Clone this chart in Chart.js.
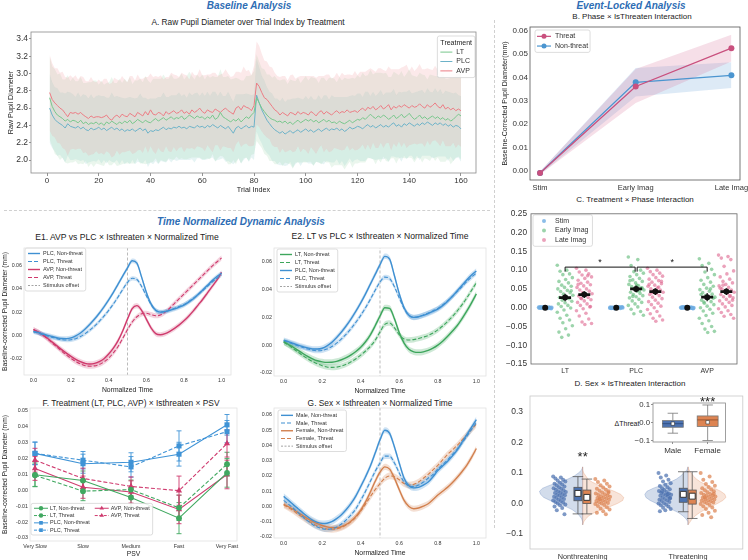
<!DOCTYPE html>
<html>
<head>
<meta charset="utf-8">
<script src="https://cdn.jsdelivr.net/npm/chart.js@4/dist/chart.umd.min.js"></script>
<style>
html,body{margin:0;padding:0;background:#fff;}
#wrap{position:relative;width:748px;height:560px;overflow:hidden;background:#fff;font-family:"Liberation Sans",Arial,Helvetica,sans-serif;}
#wrap canvas{position:absolute;}
.t{position:absolute;white-space:nowrap;transform:translate(-50%,-50%);color:#222;line-height:1;}
.hd{font-weight:bold;font-style:italic;color:#2e6db4;}
.dh{position:absolute;border-top:1px dashed #d0d0d0;height:0;}
.dv{position:absolute;border-left:1px dashed #d0d0d0;width:0;}
</style>
</head>
<body>
<div id="wrap"></div>
<script>
// ================= DATA =================
// Panel A: raw pupil diameter per trial (means) and band half-widths
const trialAVP=[
2.78,2.70,2.66,2.63,2.60,2.58,2.54,2.50,2.55,2.54,
2.55,2.53,2.55,2.52,2.50,2.48,2.51,2.49,2.50,2.50,
2.49,2.50,2.52,2.48,2.46,2.50,2.52,2.49,2.53,2.51,
2.50,2.54,2.52,2.50,2.55,2.53,2.51,2.56,2.52,2.58,
2.53,2.52,2.55,2.54,2.51,2.56,2.53,2.55,2.57,2.54,
2.55,2.58,2.54,2.56,2.53,2.58,2.55,2.57,2.60,2.56,
2.54,2.58,2.56,2.55,2.59,2.57,2.55,2.58,2.60,2.57,
2.55,2.53,2.60,2.62,2.58,2.63,2.61,2.60,2.57,2.63,
2.89,2.85,2.78,2.72,2.70,2.66,2.62,2.58,2.56,2.52,
2.55,2.53,2.51,2.55,2.54,2.52,2.56,2.53,2.55,2.54,
2.52,2.56,2.54,2.51,2.55,2.57,2.53,2.56,2.54,2.52,
2.55,2.57,2.54,2.56,2.55,2.58,2.55,2.56,2.57,2.55,
2.58,2.60,2.57,2.61,2.59,2.62,2.58,2.60,2.63,2.59,
2.61,2.64,2.58,2.62,2.60,2.63,2.61,2.64,2.62,2.60,
2.63,2.61,2.62,2.65,2.62,2.60,2.64,2.61,2.63,2.66,
2.62,2.60,2.64,2.59,2.61,2.58,2.60,2.57,2.59,2.57];
const trialLT=[
2.72,2.62,2.56,2.52,2.50,2.48,2.45,2.47,2.44,2.46,
2.45,2.43,2.46,2.42,2.44,2.41,2.43,2.42,2.44,2.41,
2.43,2.40,2.44,2.42,2.45,2.43,2.41,2.44,2.42,2.45,
2.43,2.46,2.42,2.44,2.47,2.45,2.43,2.46,2.44,2.43,
2.46,2.48,2.45,2.47,2.49,2.46,2.48,2.50,2.47,2.49,
2.48,2.51,2.47,2.49,2.52,2.50,2.48,2.51,2.49,2.50,
2.47,2.50,2.48,2.52,2.47,2.49,2.55,2.50,2.48,2.46,
2.44,2.47,2.45,2.48,2.44,2.47,2.50,2.48,2.52,2.55,
2.72,2.66,2.60,2.56,2.52,2.49,2.47,2.46,2.44,2.45,
2.43,2.45,2.42,2.44,2.41,2.44,2.46,2.43,2.45,2.47,
2.45,2.47,2.44,2.46,2.43,2.45,2.47,2.44,2.46,2.43,
2.44,2.42,2.45,2.43,2.42,2.44,2.46,2.43,2.45,2.47,
2.46,2.49,2.47,2.50,2.53,2.50,2.48,2.51,2.49,2.52,
2.50,2.47,2.49,2.52,2.48,2.50,2.53,2.49,2.51,2.54,
2.50,2.47,2.49,2.52,2.48,2.50,2.47,2.49,2.51,2.48,
2.50,2.47,2.49,2.46,2.48,2.45,2.47,2.50,2.53,2.51];
const trialPLC=[
2.60,2.52,2.47,2.44,2.42,2.40,2.37,2.42,2.39,2.38,
2.37,2.39,2.36,2.38,2.35,2.34,2.37,2.35,2.36,2.38,
2.35,2.37,2.34,2.36,2.38,2.35,2.37,2.34,2.36,2.33,
2.35,2.34,2.36,2.33,2.35,2.37,2.34,2.36,2.31,2.34,
2.33,2.35,2.34,2.36,2.38,2.35,2.37,2.36,2.38,2.37,
2.39,2.37,2.38,2.36,2.39,2.38,2.37,2.40,2.38,2.39,
2.37,2.40,2.38,2.41,2.39,2.37,2.40,2.38,2.36,2.39,
2.35,2.31,2.37,2.39,2.36,2.38,2.40,2.37,2.39,2.38,
2.75,2.66,2.58,2.52,2.46,2.42,2.38,2.35,2.33,2.31,
2.33,2.30,2.32,2.34,2.31,2.33,2.35,2.32,2.34,2.36,
2.33,2.35,2.32,2.34,2.36,2.33,2.35,2.37,2.34,2.36,
2.35,2.37,2.34,2.36,2.33,2.35,2.38,2.36,2.37,2.39,
2.38,2.36,2.39,2.41,2.38,2.40,2.37,2.39,2.41,2.38,
2.40,2.38,2.41,2.43,2.39,2.41,2.38,2.42,2.40,2.43,
2.41,2.39,2.42,2.40,2.43,2.41,2.44,2.42,2.40,2.43,
2.41,2.43,2.40,2.42,2.39,2.41,2.38,2.40,2.39,2.36];
const bandAVP=[
.44,.42,.40,.43,.41,.44,.42,.45,.43,.41,.43,.40,.42,.44,.41,.43,.45,.42,.40,.43,
.41,.44,.42,.40,.43,.45,.41,.43,.44,.42,.40,.43,.45,.42,.44,.41,.43,.40,.44,.42,
.43,.45,.41,.44,.42,.40,.43,.46,.42,.44,.41,.43,.45,.42,.40,.44,.43,.41,.45,.42,
.44,.41,.43,.46,.42,.40,.44,.42,.45,.43,.41,.44,.42,.40,.43,.45,.42,.44,.41,.46,
.48,.47,.45,.43,.44,.42,.45,.43,.41,.44,.42,.44,.41,.43,.45,.42,.40,.44,.42,.43,
.45,.41,.43,.44,.42,.40,.44,.43,.45,.42,.41,.44,.42,.45,.43,.41,.44,.42,.46,.43,
.44,.42,.45,.43,.47,.42,.44,.46,.43,.45,.42,.44,.47,.43,.45,.42,.46,.44,.48,.43,
.45,.42,.44,.46,.43,.45,.42,.44,.41,.43,.42,.44,.41,.43,.45,.42,.40,.43,.41,.42];
const bandLT=[
.48,.46,.49,.47,.50,.45,.48,.51,.47,.49,.46,.48,.50,.47,.45,.49,.47,.50,.48,.46,
.49,.47,.45,.48,.51,.46,.48,.50,.47,.49,.47,.50,.46,.48,.45,.49,.47,.51,.48,.46,
.48,.46,.49,.47,.50,.48,.46,.49,.47,.45,.47,.49,.46,.48,.50,.47,.45,.48,.46,.49,
.46,.48,.47,.45,.49,.47,.50,.46,.48,.51,.49,.47,.50,.46,.48,.45,.47,.49,.46,.48,
.50,.48,.46,.49,.47,.50,.48,.51,.49,.47,.50,.48,.46,.49,.51,.47,.49,.46,.48,.50,
.47,.49,.51,.48,.46,.50,.48,.47,.49,.52,.50,.48,.51,.49,.53,.50,.48,.52,.49,.51,
.49,.52,.50,.48,.51,.49,.53,.50,.52,.48,.51,.49,.47,.50,.52,.48,.50,.47,.49,.51,
.48,.50,.47,.49,.51,.48,.46,.50,.47,.49,.47,.49,.51,.48,.46,.50,.48,.47,.49,.50];
const bandPLC=[
.40,.38,.37,.39,.36,.38,.40,.37,.39,.38,.36,.39,.37,.38,.40,.37,.39,.36,.38,.37,
.39,.37,.38,.36,.40,.38,.37,.39,.36,.38,.37,.39,.36,.38,.37,.40,.38,.36,.39,.37,
.38,.36,.39,.37,.40,.38,.36,.39,.37,.38,.39,.37,.38,.36,.39,.37,.40,.38,.36,.39,
.37,.39,.36,.38,.40,.37,.39,.36,.38,.40,.38,.36,.39,.37,.40,.38,.37,.39,.36,.38,
.42,.41,.39,.40,.38,.37,.39,.36,.38,.37,.39,.37,.38,.36,.40,.38,.37,.39,.36,.38,
.37,.39,.38,.36,.39,.37,.40,.38,.36,.39,.38,.36,.39,.37,.40,.38,.36,.39,.37,.38,
.39,.37,.40,.38,.36,.39,.37,.38,.40,.37,.38,.40,.37,.39,.36,.38,.40,.37,.39,.38,
.36,.39,.37,.40,.38,.36,.39,.37,.38,.40,.37,.39,.36,.38,.40,.37,.39,.38,.36,.38];
const aTicksX=[0,20,40,60,80,100,120,140,160];
const aTicksY=[2.0,2.2,2.4,2.6,2.8,3.0,3.2,3.4];
const aTreatments=['LT','PLC','AVP'];

// Panel B
const bPhases=['Stim','Early Imag','Late Imag'];
const bThreat=[-0.0010,0.0361,0.0525];
const bThreatLo=[-0.0016,0.0290,0.0468];
const bThreatHi=[-0.0004,0.0436,0.0583];
const bNon=[-0.0010,0.0379,0.0409];
const bNonLo=[-0.0016,0.0318,0.0354];
const bNonHi=[-0.0004,0.0440,0.0465];
const bTicksY=[0,0.01,0.02,0.03,0.04,0.05,0.06];
const bTickLabels=['0.00','0.01','0.02','0.03','0.04','0.05','0.06'];

// Panel C
const cTreatments=['LT','PLC','AVP'];
const cPhases=['Stim','Early Imag','Late Imag'];
const cStimLT=[0.001,-0.001,0.0005,-0.0005,0.002,-0.002,0,0.0015,-0.0015,0.001,-0.001,0.0008,-0.0008,0.0003,-0.0003,0.0012,-0.0012,0.0002,-0.0002,0];
const cStimPLC=[-0.001,0.001,-0.0005,0.0005,-0.002,0.002,0,-0.0015,0.0015,-0.001,0.001,-0.0008,0.0008,-0.0003,0.0003,-0.0012,0.0012,-0.0002,0.0002,0];
const cStimAVP=[0.0005,-0.0015,0.001,-0.001,0.0015,-0.002,0.0002,0.002,-0.0005,0.0008,-0.0012,0.0003,-0.0008,0.0012,-0.0003,0.001,-0.001,0,0.0004,-0.0004];
const cEarlyLT=[0.113,0.100,0.097,0.090,0.088,0.080,0.075,0.070,0.066,0.060,0.057,0.054,0.050,0.046,0.043,0.040,0.036,0.033,0.030,0.027,0.024,0.020,0.017,0.013,0.010,0.006,0.003,-0.001,-0.006,-0.012,-0.020,-0.028,-0.033,-0.040,-0.048,-0.056,-0.065,-0.073,-0.079,0.045];
const cLateLT=[0.105,0.100,0.095,0.090,0.087,0.082,0.078,0.073,0.068,0.065,0.061,0.058,0.054,0.050,0.047,0.044,0.040,0.037,0.034,0.031,0.027,0.024,0.021,0.018,0.014,0.010,0.006,0.002,-0.003,-0.008,-0.015,-0.022,-0.030,-0.038,-0.042,-0.045,0.062,0.085,0.025,0.003];
const cEarlyPLC=[0.135,0.128,0.112,0.100,0.096,0.092,0.088,0.083,0.078,0.074,0.070,0.066,0.062,0.059,0.056,0.053,0.050,0.047,0.044,0.041,0.038,0.035,0.032,0.029,0.026,0.022,0.018,0.014,0.010,0.006,0.002,-0.004,-0.010,-0.016,-0.020,0.060,0.072,0.045,0.030,0.052];
const cLatePLC=[0.105,0.100,0.096,0.092,0.088,0.084,0.080,0.076,0.072,0.068,0.064,0.060,0.057,0.053,0.050,0.047,0.044,0.041,0.038,0.035,0.032,0.028,0.024,0.020,0.016,0.012,0.008,0.004,0.000,-0.005,-0.010,-0.016,-0.022,-0.028,-0.033,-0.036,0.062,0.055,0.040,0.070];
const cEarlyAVP=[0.130,0.118,0.112,0.102,0.095,0.088,0.080,0.073,0.068,0.062,0.057,0.052,0.048,0.044,0.040,0.036,0.032,0.028,0.024,0.020,0.016,0.012,0.008,0.004,0.000,-0.004,-0.009,-0.015,-0.021,-0.028,-0.035,-0.042,-0.050,-0.057,-0.063,-0.066,0.035,0.050,0.015,0.025];
const cLateAVP=[0.140,0.136,0.132,0.128,0.110,0.098,0.090,0.082,0.076,0.070,0.066,0.062,0.058,0.054,0.050,0.047,0.044,0.041,0.038,0.035,0.032,0.029,0.026,0.022,0.018,0.014,0.010,0.006,0.002,-0.003,-0.008,-0.013,-0.018,-0.023,-0.028,0.045,0.052,0.030,0.060,0.020];
const cMeanStim=[0.000,0.000,0.000];
const cMeanEarly=[0.027,0.050,0.028];
const cMeanLate=[0.035,0.043,0.043];
const cCiEarly=[0.010,0.009,0.011];
const cCiLate=[0.009,0.009,0.009];
const cSigPairs=[[0,1],[1,2]];
const cSigLabels=['*','*'];
const cSigY=0.108;
const cTicksY=[-0.15,-0.10,-0.05,0,0.05,0.10,0.15,0.20,0.25];
const cTickLabels=['\u22120.15','\u22120.10','\u22120.05','0.00','0.05','0.10','0.15','0.20','0.25'];

// Panel D
const dConditions=['Nonthreatening','Threatening'];
const dStripMaleNT=[0.088,0.085,0.082,0.078,0.075,0.072,0.068,0.065,0.062,0.059,0.056,0.053,0.050,0.048,0.045,0.043,0.040,0.038,0.036,0.034,0.031,0.029,0.027,0.025,0.022,0.020,0.018,0.015,0.012,0.010,0.008,0.005,0.003,0.000,-0.003,-0.006,-0.010,-0.015,-0.022,-0.035];
const dStripFemaleNT=[0.080,0.075,0.070,0.065,0.060,0.056,0.052,0.048,0.045,0.042,0.039,0.036,0.033,0.030,0.028,0.026,0.024,0.022,0.020,0.018,0.016,0.014,0.012,0.010,0.008,0.006,0.004,0.002,0.000,-0.002,-0.005,-0.008,-0.012,-0.016,-0.020,-0.025,-0.030,-0.035,0.015,0.035];
const dStripMaleT=[0.100,0.092,0.085,0.078,0.072,0.066,0.061,0.057,0.053,0.050,0.047,0.044,0.041,0.038,0.035,0.033,0.031,0.029,0.027,0.025,0.022,0.020,0.018,0.015,0.012,0.010,0.008,0.005,0.002,0.000,-0.003,-0.006,-0.010,-0.014,-0.018,-0.022,-0.025,0.030,0.040,0.016];
const dStripFemaleT=[0.100,0.088,0.078,0.070,0.064,0.058,0.054,0.050,0.046,0.043,0.040,0.037,0.034,0.031,0.029,0.027,0.025,0.023,0.021,0.019,0.017,0.015,0.013,0.011,0.009,0.007,0.005,0.003,0.001,-0.002,-0.005,-0.009,-0.013,-0.018,-0.024,-0.030,-0.038,-0.045,0.020,0.032];
const dVioY=[-0.07,-0.06,-0.05,-0.04,-0.03,-0.02,-0.01,0.00,0.01,0.02,0.03,0.04,0.05,0.06,0.07,0.08,0.09,0.10,0.11,0.12];
const dVioMaleNT=[0,0,0.01,0.03,0.06,0.10,0.16,0.24,0.31,0.37,0.40,0.41,0.38,0.31,0.22,0.14,0.08,0.04,0.01,0];
const dVioFemaleNT=[0,0.01,0.03,0.06,0.11,0.18,0.26,0.33,0.38,0.39,0.36,0.30,0.22,0.15,0.09,0.05,0.03,0.01,0,0];
const dVioMaleT=[0,0,0.02,0.05,0.09,0.15,0.22,0.30,0.36,0.40,0.41,0.39,0.33,0.25,0.17,0.11,0.07,0.04,0.01,0];
const dVioFemaleT=[0,0.02,0.04,0.07,0.11,0.16,0.22,0.28,0.33,0.36,0.35,0.31,0.25,0.18,0.12,0.08,0.05,0.03,0.01,0];
const dMaleQ1=[0.009,0.004], dMaleQ3=[0.053,0.050], dMaleMed=[0.030,0.027], dMaleLo=[-0.034,-0.027], dMaleHi=[0.088,0.104], dMaleMean=[0.033,0.030];
const dFemaleQ1=[0.000,-0.002], dFemaleQ3=[0.044,0.044], dFemaleMed=[0.020,0.022], dFemaleLo=[-0.034,-0.049], dFemaleHi=[0.080,0.104], dFemaleMean=[0.020,0.024];
const dSigLabels=['**',''];
const dSigY=0.140;
const dTicksY=[-0.1,0,0.1,0.2,0.3];
const dTickLabels=['\u22120.1','0.0','0.1','0.2','0.3'];
// D inset
const insetGroups=['Male','Female'];
const insetQ1=[-0.024,-0.020], insetQ3=[0.013,0.039], insetMed=[-0.004,0.017], insetLo=[-0.057,-0.098], insetHi=[0.054,0.100], insetMean=[-0.004,0.004];
const insetSig=['','***'];
const insetSigY=0.094;
const insetTicksY=[-0.1,0,0.1];
const insetTickLabels=['\u22120.1','0.0','0.1'];

// Panels E1/E2/G: normalized time course
const tGrid=[0,0.025,0.05,0.075,0.1,0.125,0.15,0.175,0.2,0.225,0.25,0.275,0.3,0.325,0.35,0.375,0.4,0.425,0.45,0.475,0.5,0.525,0.55,0.575,0.6,0.625,0.65,0.675,0.7,0.725,0.75,0.775,0.8,0.825,0.85,0.875,0.9,0.925,0.95,0.975,1.0];
const plcNT=[0.0035,0.0025,0.0012,0.0000,-0.0010,-0.0020,-0.0027,-0.0028,-0.0022,-0.0005,0.0020,0.0055,0.0095,0.0140,0.0190,0.0245,0.0305,0.0370,0.0440,0.0510,0.0580,0.0640,0.0620,0.0500,0.0370,0.0270,0.0215,0.0200,0.0205,0.0215,0.0228,0.0243,0.0260,0.0285,0.0315,0.0350,0.0390,0.0430,0.0470,0.0505,0.0535];
const plcT=[0.0030,0.0020,0.0008,-0.0005,-0.0017,-0.0028,-0.0036,-0.0040,-0.0038,-0.0028,-0.0010,0.0015,0.0045,0.0080,0.0120,0.0165,0.0215,0.0270,0.0330,0.0395,0.0455,0.0490,0.0480,0.0420,0.0340,0.0265,0.0215,0.0200,0.0205,0.0218,0.0232,0.0248,0.0265,0.0290,0.0318,0.0350,0.0385,0.0420,0.0458,0.0490,0.0520];
const avpNT=[0.0050,0.0030,0.0005,-0.0025,-0.0058,-0.0090,-0.0122,-0.0152,-0.0180,-0.0205,-0.0225,-0.0240,-0.0245,-0.0240,-0.0225,-0.0200,-0.0160,-0.0110,-0.0045,0.0040,0.0140,0.0230,0.0255,0.0215,0.0140,0.0065,0.0015,0.0005,0.0015,0.0035,0.0060,0.0090,0.0125,0.0165,0.0210,0.0260,0.0310,0.0365,0.0420,0.0475,0.0540];
const avpT=[0.0050,0.0028,0.0002,-0.0030,-0.0065,-0.0100,-0.0135,-0.0168,-0.0198,-0.0225,-0.0245,-0.0260,-0.0265,-0.0262,-0.0250,-0.0228,-0.0195,-0.0150,-0.0095,-0.0025,0.0050,0.0115,0.0160,0.0185,0.0190,0.0178,0.0168,0.0175,0.0200,0.0235,0.0275,0.0315,0.0355,0.0395,0.0435,0.0475,0.0515,0.0555,0.0595,0.0630,0.0665];
const ltNT=[0.0025,0.0005,-0.0015,-0.0038,-0.0060,-0.0080,-0.0098,-0.0112,-0.0120,-0.0124,-0.0123,-0.0117,-0.0105,-0.0090,-0.0070,-0.0045,-0.0015,0.0025,0.0075,0.0140,0.0210,0.0270,0.0265,0.0190,0.0090,0.0015,-0.0030,-0.0048,-0.0052,-0.0048,-0.0038,-0.0022,0.0000,0.0028,0.0062,0.0100,0.0140,0.0190,0.0245,0.0305,0.0370];
const ltT=[0.0022,0.0000,-0.0025,-0.0050,-0.0075,-0.0098,-0.0118,-0.0135,-0.0148,-0.0157,-0.0160,-0.0158,-0.0150,-0.0138,-0.0120,-0.0098,-0.0072,-0.0042,-0.0008,0.0035,0.0095,0.0150,0.0160,0.0125,0.0075,0.0045,0.0037,0.0040,0.0048,0.0058,0.0070,0.0088,0.0110,0.0138,0.0170,0.0205,0.0245,0.0290,0.0340,0.0395,0.0450];
const maleNT=[0.0066,0.0040,0.0012,-0.0015,-0.0042,-0.0068,-0.0090,-0.0105,-0.0112,-0.0110,-0.0100,-0.0080,-0.0054,-0.0020,0.0020,0.0070,0.0131,0.0195,0.0265,0.0350,0.0437,0.0500,0.0480,0.0390,0.0284,0.0185,0.0136,0.0122,0.0125,0.0140,0.0160,0.0195,0.0235,0.0265,0.0295,0.0330,0.0370,0.0420,0.0470,0.0520,0.0570];
const maleT=[0.0040,0.0015,-0.0012,-0.0040,-0.0068,-0.0095,-0.0118,-0.0135,-0.0146,-0.0150,-0.0147,-0.0135,-0.0115,-0.0088,-0.0055,-0.0015,0.0040,0.0100,0.0165,0.0230,0.0285,0.0330,0.0330,0.0285,0.0220,0.0160,0.0135,0.0130,0.0140,0.0160,0.0185,0.0210,0.0245,0.0275,0.0305,0.0340,0.0375,0.0415,0.0460,0.0505,0.0550];
const femaleNT=[0.0015,-0.0002,-0.0020,-0.0040,-0.0060,-0.0080,-0.0098,-0.0113,-0.0125,-0.0134,-0.0140,-0.0140,-0.0133,-0.0118,-0.0095,-0.0065,-0.0025,0.0030,0.0095,0.0165,0.0225,0.0260,0.0245,0.0185,0.0110,0.0040,0.0000,-0.0015,-0.0010,0.0002,0.0018,0.0045,0.0075,0.0100,0.0125,0.0155,0.0190,0.0228,0.0270,0.0322,0.0380];
const femaleT=[0.0010,-0.0008,-0.0028,-0.0050,-0.0072,-0.0093,-0.0112,-0.0128,-0.0140,-0.0148,-0.0150,-0.0147,-0.0138,-0.0122,-0.0100,-0.0070,-0.0030,0.0015,0.0065,0.0110,0.0150,0.0185,0.0200,0.0195,0.0175,0.0150,0.0140,0.0145,0.0160,0.0185,0.0210,0.0240,0.0270,0.0305,0.0340,0.0370,0.0400,0.0435,0.0470,0.0505,0.0540];
const e1Hw=[0.0020,0.0018,0.0022,0.0022];
const e2Hw=[0.0022,0.0020,0.0020,0.0018];
const gHw=[0.0020,0.0018,0.0020,0.0022];
const stimOffset=0.5;
const eTicksX=[0,0.2,0.4,0.6,0.8,1.0];
const eTickLabelsX=['0.0','0.2','0.4','0.6','0.8','1.0'];
const eTicksY=[-0.02,0,0.02,0.04,0.06];
const eTickLabelsY=['-0.02','0.00','0.02','0.04','0.06'];
const gTicksY=[-0.02,-0.01,0,0.01,0.02,0.03,0.04,0.05,0.06];
const gTickLabelsY=['-0.02','-0.01','0.00','0.01','0.02','0.03','0.04','0.05','0.06'];

// Panel F
const psvLabels=['Very Slow','Slow','Medium','Fast','Very Fast'];
const fLtNT=[0.0098,0.0062,-0.0045,-0.0175,0.0110];
const fLtNTErr=[0.0075,0.0060,0.0060,0.0098,0.0090];
const fLtT=[0.0095,-0.0005,0.0005,-0.0110,0.0165];
const fLtTErr=[0.0070,0.0060,0.0060,0.0080,0.0075];
const fPlcNT=[0.0233,0.0168,0.0177,0.0228,0.0413];
const fPlcNTErr=[0.0070,0.0060,0.0060,0.0075,0.0065];
const fPlcT=[0.0233,0.0190,0.0148,0.0280,0.0370];
const fPlcTErr=[0.0072,0.0055,0.0065,0.0095,0.0070];
const fAvpNT=[0.0138,0.0020,-0.0010,-0.0120,0.0100];
const fAvpNTErr=[0.0075,0.0070,0.0070,0.0090,0.0090];
const fAvpT=[0.0190,0.0075,0.0025,-0.0002,0.0295];
const fAvpTErr=[0.0075,0.0065,0.0060,0.0092,0.0085];
const fTicksY=[-0.03,-0.02,-0.01,0,0.01,0.02,0.03,0.04,0.05];
const fTickLabelsY=['-0.03','-0.02','-0.01','0.00','0.01','0.02','0.03','0.04','0.05'];

// ================= HELPERS =================
const FONT='"Liberation Sans", Arial, Helvetica, sans-serif';
Chart.defaults.font.family=FONT;
Chart.defaults.color='#333';
const wrap=document.getElementById('wrap');
function txt(s,x,y,size,cls,style){const d=document.createElement('div');d.className='t'+(cls?' '+cls:'');d.textContent=s;d.style.left=x+'px';d.style.top=y+'px';d.style.fontSize=size+'px';if(style)Object.assign(d.style,style);wrap.appendChild(d);}
function hdash(x,y,w){const d=document.createElement('div');d.className='dh';Object.assign(d.style,{left:x+'px',top:y+'px',width:w+'px'});wrap.appendChild(d);}
function vdash(x,y,h){const d=document.createElement('div');d.className='dv';Object.assign(d.style,{left:x+'px',top:y+'px',height:h+'px'});wrap.appendChild(d);}
const jit=(i,w)=>((((i*17)%29)/28)-0.5)*2*w;
const pts=(xs,ys)=>ys.map((v,i)=>({x:xs[i],y:v}));
const shift=(xs,ys,hw,s)=>ys.map((v,i)=>({x:xs[i],y:v+s*(Array.isArray(hw)?hw[i]:hw)}));
function bandSets(xs,ys,hw,color,smooth){return [
 {type:'line',data:shift(xs,ys,hw,-1),borderColor:'rgba(0,0,0,0)',borderWidth:1,pointRadius:0,fill:false,order:5,cubicInterpolationMode:smooth?'monotone':'default'},
 {type:'line',data:shift(xs,ys,hw,1),borderColor:'rgba(0,0,0,0)',borderWidth:1,pointRadius:0,fill:'-1',backgroundColor:color,order:5,cubicInterpolationMode:smooth?'monotone':'default'}];}
function lineSet(xs,ys,color,dash,w,smooth){return {type:'line',data:pts(xs,ys),borderColor:color,backgroundColor:color,borderWidth:w||1.2,borderDash:dash||[],pointRadius:0,fill:false,order:1,cubicInterpolationMode:smooth?'monotone':'default'};}
function lin(min,max,ticks,labels,o){o=o||{};
 return {type:'linear',min:min,max:max,
  afterBuildTicks:s=>{s.ticks=ticks.map(v=>({value:v}));},
  ticks:{autoSkip:false,maxRotation:0,minRotation:0,padding:(o.pad!=null?o.pad:2),font:{size:o.size||8},color:o.color||'#333',callback:(v,i)=>labels[i]},
  grid:{display:!!o.tick,drawOnChartArea:false,drawTicks:!!o.tick,tickLength:o.tick||0,color:o.tickColor||'#777',tickWidth:0.8},
  border:{display:false},
  title:o.title?{display:true,text:o.title,font:{size:o.tsize||8},color:'#222',padding:Object.assign({top:0,bottom:0},o.tpad||{})}:{display:false}
 };}
function chartAt(box,plot,cfg){
 const c=document.createElement('canvas');
 Object.assign(c.style,{left:box[0]+'px',top:box[1]+'px',width:box[2]+'px',height:box[3]+'px'});
 c.width=box[2];c.height=box[3];wrap.appendChild(c);
 const o=cfg.options;
 o.responsive=false;o.animation=false;o.devicePixelRatio=1;o.events=[];
 o.layout={padding:{left:0,top:plot[1]-box[1],right:box[0]+box[2]-plot[2],bottom:0}};
 const yW=plot[0]-box[0],xH=box[1]+box[3]-plot[3];
 o.scales.x.afterFit=s=>{s.height=xH;s.paddingLeft=0;s.paddingRight=0;};
 o.scales.y.afterFit=s=>{s.width=yW;s.paddingTop=0;s.paddingBottom=0;};
 o.plugins=Object.assign({legend:{display:false},tooltip:{enabled:false}},o.plugins||{});
 return new Chart(c,cfg);
}
function drawBox(c,xs,ys,x,hw,capw,q1,q3,med,lo,hi,fill,edge,medColor,lw){
 const xp=xs.getPixelForValue(x),xl=xs.getPixelForValue(x-hw),xr=xs.getPixelForValue(x+hw),cl=xs.getPixelForValue(x-capw),cr=xs.getPixelForValue(x+capw);
 const y1=ys.getPixelForValue(q1),y3=ys.getPixelForValue(q3),ym=ys.getPixelForValue(med),yl=ys.getPixelForValue(lo),yh=ys.getPixelForValue(hi);
 c.strokeStyle=edge;c.lineWidth=lw;
 c.beginPath();c.moveTo(xp,y3);c.lineTo(xp,yh);c.moveTo(cl,yh);c.lineTo(cr,yh);c.moveTo(xp,y1);c.lineTo(xp,yl);c.moveTo(cl,yl);c.lineTo(cr,yl);c.stroke();
 c.fillStyle=fill;c.fillRect(xl,y3,xr-xl,y1-y3);c.strokeRect(xl,y3,xr-xl,y1-y3);
 if(medColor){c.strokeStyle=medColor;c.beginPath();c.moveTo(xl,ym);c.lineTo(xr,ym);c.stroke();}
}
// ---- plugins ----
const framePlugin={id:'frame',afterDraw(ch,a,o){if(!o||!o.color)return;const c=ch.ctx,r=ch.chartArea;c.save();c.strokeStyle=o.color;c.lineWidth=o.width||0.8;c.strokeRect(r.left,r.top,r.right-r.left,r.bottom-r.top);c.restore();}};
const legendPlugin={id:'boxLegend',afterDatasetsDraw(ch,a,o){
 if(!o||!o.items)return;
 const c=ch.ctx,r=ch.chartArea;c.save();
 c.font=o.size+'px '+FONT;c.textBaseline='middle';
 const n=o.items.length,rows=o.rows||n,ncol=Math.ceil(n/rows);
 const colW=[];for(let k=0;k<ncol;k++){let m=0;for(let i=k*rows;i<Math.min(n,(k+1)*rows);i++)m=Math.max(m,c.measureText(o.items[i].text).width);colW.push(o.sym+o.gap+m);}
 let inner=colW.reduce((p,q)=>p+q,0)+(ncol-1)*(o.colGap||0);
 if(o.title)inner=Math.max(inner,c.measureText(o.title).width);
 const Wd=inner+2*o.padX,Ht=((o.title?1:0)+rows)*o.rowH+2*o.padY;
 const x0=o.right!=null?r.right-o.right-Wd:r.left+o.x;
 const y0=o.bottom!=null?r.bottom-o.bottom-Ht:r.top+o.y;
 c.fillStyle='rgba(255,255,255,0.85)';c.strokeStyle=o.border||'#d4d4d4';c.lineWidth=0.8;
 c.beginPath();if(c.roundRect)c.roundRect(x0,y0,Wd,Ht,2);else c.rect(x0,y0,Wd,Ht);c.fill();c.stroke();
 let yy=y0+o.padY+o.rowH/2;
 if(o.title){c.fillStyle='#222';c.textAlign='center';c.fillText(o.title,x0+Wd/2,yy);yy+=o.rowH;}
 c.textAlign='left';
 let cx=x0+o.padX;
 for(let k=0;k<ncol;k++){
  for(let i=k*rows;i<Math.min(n,(k+1)*rows);i++){
   const it=o.items[i],y=yy+(i-k*rows)*o.rowH;
   if(it.line!==false){c.save();c.strokeStyle=it.color;c.lineWidth=it.w||1.2;c.setLineDash(it.dash||[]);c.beginPath();c.moveTo(cx,y);c.lineTo(cx+o.sym,y);c.stroke();c.restore();}
   if(it.marker){c.fillStyle=it.color;c.strokeStyle=it.color;Chart.helpers.drawPoint(c,{pointStyle:it.marker,radius:it.r||2.5,rotation:0,borderWidth:0},cx+o.sym/2,y);}
   c.fillStyle='#333';c.fillText(it.text,cx+o.sym+o.gap,y);
  }
  cx+=colW[k]+(o.colGap||0);
 }
 c.restore();}};
const errPlugin={id:'errbars',beforeDatasetsDraw(ch){
 const c=ch.ctx,ys=ch.scales.y;c.save();
 ch.data.datasets.forEach((ds,i)=>{if(!ds.errors)return;const m=ch.getDatasetMeta(i);c.strokeStyle=ds.errColor||ds.borderColor;c.lineWidth=0.9;
  m.data.forEach((p,j)=>{const v=ds.data[j].y,e=ds.errors[j];const y1=ys.getPixelForValue(v-e),y2=ys.getPixelForValue(v+e);c.beginPath();c.moveTo(p.x,y1);c.lineTo(p.x,y2);c.moveTo(p.x-2.5,y1);c.lineTo(p.x+2.5,y1);c.moveTo(p.x-2.5,y2);c.lineTo(p.x+2.5,y2);c.stroke();});});
 c.restore();}};
Chart.register(framePlugin,legendPlugin,errPlugin);

// ================= TEXT / LAYOUT =================
txt('Baseline Analysis',249,6,10,'hd');
txt('Event-Locked Analysis',631,6,10,'hd');
txt('Time Normalized Dynamic Analysis',241,222,10,'hd');
txt('A. Raw Pupil Diameter over Trial Index by Treatment',248,22,8.3);
txt('B. Phase \u00d7 IsThreaten Interaction',632,17,8);
txt('C. Treatment \u00d7 Phase Interaction',635,200,8);
txt('D. Sex \u00d7 IsThreaten Interaction',630,384,8);
txt('E1. AVP vs PLC \u00d7 Isthreaten \u00d7 Normalized Time',127,237,8.6);
txt('E2. LT vs PLC \u00d7 Isthreaten \u00d7 Normalized Time',380,236,8.6);
txt('F. Treatment (LT, PLC, AVP) \u00d7 Isthreaten \u00d7 PSV',131,403,8.4);
txt('G. Sex \u00d7 Isthreaten \u00d7 Normalized Time',380,403,8.4);
txt('\u0394Threat',627,423,7);
hdash(4,210,486);
vdash(494,20,508);

// ================= PANEL A =================
const trials=trialAVP.map((_,i)=>i+1);
const aColors=['#78c78c','#6cb2c8','#ec7c84'];
chartAt([0,28,488,172],[31,32,476,173],{type:'line',data:{datasets:[
 lineSet(trials,trialLT,aColors[0],null,1),
 lineSet(trials,trialPLC,aColors[1],null,1),
 lineSet(trials,trialAVP,aColors[2],null,1),
 ...bandSets(trials,trialAVP,bandAVP,'rgba(240,145,150,0.2)'),
 ...bandSets(trials,trialLT,bandLT,'rgba(150,210,165,0.2)'),
 ...bandSets(trials,trialPLC,bandPLC,'rgba(130,200,200,0.2)')
]},options:{scales:{
 x:lin(-6.2,165.8,aTicksX,aTicksX.map(String),{size:8,tick:3,pad:0,title:'Trial Index',tsize:7.2,tpad:{bottom:5.3}}),
 y:lin(1.85,3.48,aTicksY,aTicksY.map(v=>v.toFixed(1)),{size:8.5,tick:2,pad:1,title:'Raw Pupil Diameter',tsize:7.2,tpad:{top:6.7}})},
 plugins:{frame:{color:'#8a8a8a'},boxLegend:{right:1,y:4,size:7,rowH:9.4,sym:12,gap:4,padX:3,padY:2,title:'Treatment',
  items:aTreatments.map((t,i)=>({text:t,color:aColors[i],w:1}))}}}});

// ================= PANEL B =================
const bX=[0,1,2];
const bCol={threat:'#c9507e',non:'#4b95d0'};
chartAt([497,22,251,176],[530,27,740,180],{type:'line',data:{datasets:[
 {type:'line',data:pts(bX,bThreat),borderColor:bCol.threat,backgroundColor:bCol.threat,borderWidth:1.3,pointRadius:3,pointBorderWidth:0,order:1},
 {type:'line',data:pts(bX,bNon),borderColor:bCol.non,backgroundColor:bCol.non,borderWidth:1.3,pointRadius:3,pointBorderWidth:0,order:1},
 {type:'line',data:pts(bX,bThreatLo),borderColor:'rgba(0,0,0,0)',pointRadius:0,fill:false,order:5},
 {type:'line',data:pts(bX,bThreatHi),borderColor:'rgba(0,0,0,0)',pointRadius:0,fill:'-1',backgroundColor:'rgba(214,110,150,0.22)',order:5},
 {type:'line',data:pts(bX,bNonLo),borderColor:'rgba(0,0,0,0)',pointRadius:0,fill:false,order:5},
 {type:'line',data:pts(bX,bNonHi),borderColor:'rgba(0,0,0,0)',pointRadius:0,fill:'-1',backgroundColor:'rgba(100,160,215,0.22)',order:5}
]},options:{scales:{
 x:lin(-0.105,2.09,bX,bPhases,{size:7.5,pad:3}),
 y:lin(-0.004,0.0616,bTicksY,bTickLabels,{size:8,pad:2,title:'Baseline-Corrected Pupil Diameter(mm)',tsize:7,tpad:{top:3.8}})},
 plugins:{frame:{color:'#555'},boxLegend:{x:5,y:3,size:7,rowH:9.7,sym:14,gap:4,padX:2,padY:1.5,
  items:[{text:'Threat',color:bCol.threat,marker:'circle',r:2.5},{text:'Non-threat',color:bCol.non,marker:'circle',r:2.5}]}}}});

// ================= PANEL C =================
const cOff=[-0.28,0,0.27];
const cX=[0,1,2];
const cCols=['rgba(110,172,226,0.8)','rgba(95,185,120,0.62)','rgba(222,105,145,0.62)'];
function strip(groups,off,w){const out=[];groups.forEach((g,t)=>g.forEach((v,i)=>out.push({x:t+off+jit(i,w),y:v})));return out;}
const cMeanPts=[...pts(cX.map(t=>t+cOff[0]),cMeanStim),...pts(cX.map(t=>t+cOff[1]),cMeanEarly),...pts(cX.map(t=>t+cOff[2]),cMeanLate)];
const cBarPts=[...pts(cX.map(t=>t+cOff[1]),cMeanEarly),...pts(cX.map(t=>t+cOff[2]),cMeanLate)];
const cPlugin={id:'cAnno',afterDatasetsDraw(ch){
 const c=ch.ctx,xs=ch.scales.x,ys=ch.scales.y;c.save();c.strokeStyle='#111';c.lineWidth=1.2;
 [[cMeanEarly,cCiEarly,cOff[1]],[cMeanLate,cCiLate,cOff[2]]].forEach(([m,ci,off])=>m.forEach((v,t)=>{const x=xs.getPixelForValue(t+off);c.beginPath();c.moveTo(x,ys.getPixelForValue(v-ci[t]));c.lineTo(x,ys.getPixelForValue(v+ci[t]));c.stroke();}));
 c.lineWidth=1;
 cSigPairs.forEach((p,k)=>{const x1=xs.getPixelForValue(p[0])+(k?1:0),x2=xs.getPixelForValue(p[1])-(k?0:1),y=ys.getPixelForValue(cSigY),yt=ys.getPixelForValue(cSigY-0.012);
  c.beginPath();c.moveTo(x1,yt);c.lineTo(x1,y);c.lineTo(x2,y);c.lineTo(x2,yt);c.stroke();
  c.fillStyle='#111';c.font='9px '+FONT;c.textAlign='center';c.textBaseline='middle';c.fillText(cSigLabels[k],(x1+x2)/2,ys.getPixelForValue(cSigY+0.012));});
 c.restore();}};
chartAt([497,205,251,172],[531,212,737,364],{type:'scatter',data:{datasets:[
 {data:cBarPts,pointStyle:'line',pointRadius:6,pointBorderWidth:2.8,pointBorderColor:'#111',pointBackgroundColor:'#111',order:0},
 {data:cMeanPts,pointRadius:3,pointBorderWidth:0,pointBackgroundColor:'#111',order:0},
 {data:strip([cStimLT,cStimPLC,cStimAVP],cOff[0],0.09),pointRadius:2,pointBorderWidth:0,pointBackgroundColor:cCols[0],order:3},
 {data:strip([cEarlyLT,cEarlyPLC,cEarlyAVP],cOff[1],0.11),pointRadius:1.8,pointBorderWidth:0,pointBackgroundColor:cCols[1],order:3},
 {data:strip([cLateLT,cLatePLC,cLateAVP],cOff[2],0.11),pointRadius:1.8,pointBorderWidth:0,pointBackgroundColor:cCols[2],order:3}
]},options:{scales:{
 x:lin(-0.48,2.42,cX,cTreatments,{size:7,pad:3}),
 y:lin(-0.15,0.25,cTicksY,cTickLabels,{size:8.3,pad:4})},
 plugins:{frame:{color:'#666'},boxLegend:{x:2,y:1,size:7,rowH:9.5,sym:14,gap:4,padX:4,padY:1.5,
  items:cPhases.map((p,i)=>({text:p,color:cCols[i],line:false,marker:'circle',r:2}))}}},plugins:[cPlugin]});

// ================= PANEL D =================
const dX=[0,1];
const dOffM=-0.045,dOffF=0.04;
const dCol={m:'#4c72b0',f:'#dd8452'};
const dPlugin={id:'dDraw',
 beforeDatasetsDraw(ch){
  const c=ch.ctx,xs=ch.scales.x,ys=ch.scales.y;c.save();
  [[dVioMaleNT,0,-1,'rgba(76,114,176,0.25)','rgba(76,114,176,0.45)'],[dVioFemaleNT,0,1,'rgba(221,132,82,0.22)','rgba(221,132,82,0.45)'],
   [dVioMaleT,1,-1,'rgba(76,114,176,0.25)','rgba(76,114,176,0.45)'],[dVioFemaleT,1,1,'rgba(221,132,82,0.22)','rgba(221,132,82,0.45)']].forEach(([w,k,dir,fill,stroke])=>{
   c.beginPath();c.moveTo(xs.getPixelForValue(k),ys.getPixelForValue(dVioY[0]));
   dVioY.forEach((y,i)=>c.lineTo(xs.getPixelForValue(k+dir*w[i]),ys.getPixelForValue(y)));
   c.lineTo(xs.getPixelForValue(k),ys.getPixelForValue(dVioY[dVioY.length-1]));c.closePath();
   c.fillStyle=fill;c.fill();c.strokeStyle=stroke;c.lineWidth=0.6;c.stroke();});
  dX.forEach(k=>{
   drawBox(c,xs,ys,k+dOffM,0.038,0.05,dMaleQ1[k],dMaleQ3[k],dMaleMed[k],dMaleLo[k],dMaleHi[k],dCol.m,'#555',null,0.8);
   drawBox(c,xs,ys,k+dOffF,0.038,0.05,dFemaleQ1[k],dFemaleQ3[k],dFemaleMed[k],dFemaleLo[k],dFemaleHi[k],dCol.f,'#555',null,0.8);
  });
  c.restore();},
 afterDatasetsDraw(ch){const c=ch.ctx,xs=ch.scales.x,ys=ch.scales.y;c.save();c.fillStyle='#222';c.font='13px '+FONT;c.textAlign='center';c.textBaseline='alphabetic';
  dSigLabels.forEach((s,k)=>{if(s)c.fillText(s,xs.getPixelForValue(k),ys.getPixelForValue(dSigY));});c.restore();}};
chartAt([497,390,251,170],[530,396,743,549],{type:'scatter',data:{datasets:[
 {data:[...pts(dX.map(k=>k+dOffM),dMaleMean),...pts(dX.map(k=>k+dOffF),dFemaleMean)],pointStyle:'rect',pointRadius:4.2,pointBackgroundColor:'#fff',pointBorderColor:'#333',pointBorderWidth:1,order:0},
 {data:[...strip([dStripMaleNT],-0.22,0.06),...strip([dStripMaleT],-0.22+1,0.06)],pointRadius:2,pointBorderWidth:0,pointBackgroundColor:'rgba(76,114,176,0.72)',order:2},
 {data:[...strip([dStripFemaleNT],0.19,0.07),...strip([dStripFemaleT],0.19+1,0.07)],pointRadius:2,pointBorderWidth:0,pointBackgroundColor:'rgba(221,132,82,0.72)',order:2}
]},options:{scales:{
 x:lin(-0.5,1.52,dX,dConditions,{size:7.3,pad:4}),
 y:lin(-0.149,0.352,dTicksY,dTickLabels,{size:8.5,pad:7})},
 plugins:{frame:{color:'#c8c8c8'}}},plugins:[dPlugin]});

// ---- D inset ----
const iX=[0,1];
const insetPlugin={id:'insetDraw',
 beforeDatasetsDraw(ch){const c=ch.ctx,xs=ch.scales.x,ys=ch.scales.y;c.save();
  drawBox(c,xs,ys,0,0.3,0.15,insetQ1[0],insetQ3[0],insetMed[0],insetLo[0],insetHi[0],dCol.m,'#777','#2c4a7a',0.8);
  drawBox(c,xs,ys,1,0.3,0.15,insetQ1[1],insetQ3[1],insetMed[1],insetLo[1],insetHi[1],dCol.f,'#777','#8a4a28',0.8);
  c.restore();},
 afterDatasetsDraw(ch){const c=ch.ctx,xs=ch.scales.x,ys=ch.scales.y;c.save();c.fillStyle='#222';c.font='13px '+FONT;c.textAlign='center';c.textBaseline='alphabetic';
  insetSig.forEach((s,k)=>{if(s)c.fillText(s,xs.getPixelForValue(k),ys.getPixelForValue(insetSigY));});c.restore();}};
chartAt([605,390,125,66],[653,403,726,442],{type:'scatter',data:{datasets:[
 {data:pts(iX,insetMean),pointStyle:'rect',pointRadius:2.4,pointBackgroundColor:'#fff',pointBorderColor:'#333',pointBorderWidth:0.6}
]},options:{scales:{
 x:lin(-0.57,1.51,iX,insetGroups,{size:8,pad:1.5,tick:2}),
 y:lin(-0.106,0.111,insetTicksY,insetTickLabels,{size:7.8,pad:1,tick:2})},
 plugins:{frame:{color:'#888'}}},plugins:[insetPlugin]});

// ================= PANELS E1 / E2 / G =================
function timeChart(box,plot,ymin,ymax,yt,yl,curves,hws,leg,xTitle,yTitle){
 const ds=[];
 curves.forEach((cv,i)=>ds.push(lineSet(tGrid,cv.vals,cv.color,cv.dash,cv.dash?1.1:1.4,true)));
 ds.push({type:'line',data:[{x:stimOffset,y:-1},{x:stimOffset,y:1}],borderColor:'#aaa',borderWidth:0.8,borderDash:[3,2],pointRadius:0,fill:false,order:2});
 curves.forEach((cv,i)=>ds.push(...bandSets(tGrid,cv.vals,hws[i],cv.band,true)));
 const items=curves.map(cv=>({text:cv.label,color:cv.color,dash:cv.dash,w:cv.dash?1.1:1.4}));
 items.push({text:'Stimulus offset',color:'#999',dash:[2,1.5],w:0.9});
 return chartAt(box,plot,{type:'line',data:{datasets:ds},options:{scales:{
  x:lin(-0.05,1.05,eTicksX,eTickLabelsX,{size:5.3,pad:2,title:xTitle,tsize:6.8,tpad:{bottom:leg.xtp}}),
  y:lin(ymin,ymax,yt,yl,{size:5.3,pad:2,title:yTitle,tsize:6.7,tpad:{top:1}})},
  plugins:{frame:{color:'#e2e2e2'},boxLegend:Object.assign({size:5.5,rowH:8,sym:12,gap:3,padX:3,padY:1.5,items:items},leg)}}});
}
const C_PLC='#3f90d2',C_AVP='#cf3a6c',C_LT='#3da65c',C_M='#3f90d2',C_F='#d2804e';
const B_PLC='rgba(63,144,210,0.25)',B_AVP='rgba(207,58,108,0.22)',B_LT='rgba(61,166,92,0.25)',B_F='rgba(210,128,78,0.25)';
timeChart([0,243,240,155],[24,248,231,375],-0.034,0.075,eTicksY,eTickLabelsY,[
 {vals:plcNT,color:C_PLC,band:B_PLC,label:'PLC, Non-threat'},
 {vals:plcT,color:C_PLC,band:B_PLC,dash:[4,2],label:'PLC, Threat'},
 {vals:avpNT,color:C_AVP,band:B_AVP,label:'AVP, Non-threat'},
 {vals:avpT,color:C_AVP,band:B_AVP,dash:[4,2],label:'AVP, Threat'}],e1Hw,{x:1,y:0,xtp:3.9},'Normalized Time','Baseline-corrected Pupil Diameter (mm)');
timeChart([248,243,242,155],[274,248,486,376],-0.0222,0.070,eTicksY,eTickLabelsY,[
 {vals:ltNT,color:C_LT,band:B_LT,label:'LT, Non-threat'},
 {vals:ltT,color:C_LT,band:B_LT,dash:[4,2],label:'LT, Threat'},
 {vals:plcNT,color:C_PLC,band:B_PLC,label:'PLC, Non-threat'},
 {vals:plcT,color:C_PLC,band:B_PLC,dash:[4,2],label:'PLC, Threat'}],e2Hw,{x:3,y:1,xtp:3},'Normalized Time',null);
timeChart([248,403,242,157],[274,408,486,538],-0.0207,0.0646,gTicksY,gTickLabelsY,[
 {vals:maleNT,color:C_M,band:B_PLC,label:'Male, Non-threat'},
 {vals:maleT,color:C_M,band:B_PLC,dash:[4,2],label:'Male, Threat'},
 {vals:femaleNT,color:C_F,band:B_F,label:'Female, Non-threat'},
 {vals:femaleT,color:C_F,band:B_F,dash:[4,2],label:'Female, Threat'}],gHw,{x:4,y:2,rowH:7.7,xtp:2.9},'Normalized Time',null);

// ================= PANEL F =================
const fX=[0,1,2,3,4];
const F_LT='#40a860',F_PLC='#3f93d6',F_AVP='#cf3a6e';
function fSet(vals,errs,color,dash,style){return {type:'line',data:pts(fX,vals),errors:errs,errColor:color,borderColor:color,backgroundColor:color,borderWidth:1.1,borderDash:dash||[],pointStyle:style,pointRadius:style==='rect'?3.6:(style==='triangle'?3.6:2.9),pointBorderWidth:0,order:1};}
chartAt([0,403,244,157],[30,408,237,541],{type:'line',data:{datasets:[
 fSet(fLtNT,fLtNTErr,F_LT,null,'circle'),
 fSet(fLtT,fLtTErr,F_LT,[4,2],'circle'),
 fSet(fPlcNT,fPlcNTErr,F_PLC,null,'rect'),
 fSet(fPlcT,fPlcTErr,F_PLC,[4,2],'rect'),
 fSet(fAvpNT,fAvpNTErr,F_AVP,null,'triangle'),
 fSet(fAvpT,fAvpTErr,F_AVP,[4,2],'triangle')
]},options:{scales:{
 x:lin(-0.104,4.208,fX,psvLabels,{size:5.3,pad:2,title:'PSV',tsize:6.8,tpad:{bottom:1.9}}),
 y:lin(-0.0319,0.0519,fTicksY,fTickLabelsY,{size:5.3,pad:2,title:'Baseline-corrected Pupil Diameter (mm)',tsize:6.7,tpad:{top:1}})},
 plugins:{frame:{color:'#e2e2e2'},boxLegend:{x:1,bottom:6,rows:4,colGap:5,size:5.5,rowH:7.3,sym:14,gap:2,padX:3,padY:1.2,items:[
  {text:'LT, Non-threat',color:F_LT,marker:'circle',r:2.2,w:1},
  {text:'LT, Threat',color:F_LT,dash:[3,1.5],marker:'circle',r:2.2,w:1},
  {text:'PLC, Non-threat',color:F_PLC,marker:'rect',r:2.6,w:1},
  {text:'PLC, Threat',color:F_PLC,dash:[3,1.5],marker:'rect',r:2.6,w:1},
  {text:'AVP, Non-threat',color:F_AVP,marker:'triangle',r:2.6,w:1},
  {text:'AVP, Threat',color:F_AVP,dash:[3,1.5],marker:'triangle',r:2.6,w:1}]}}}});
</script>
</body>
</html>
